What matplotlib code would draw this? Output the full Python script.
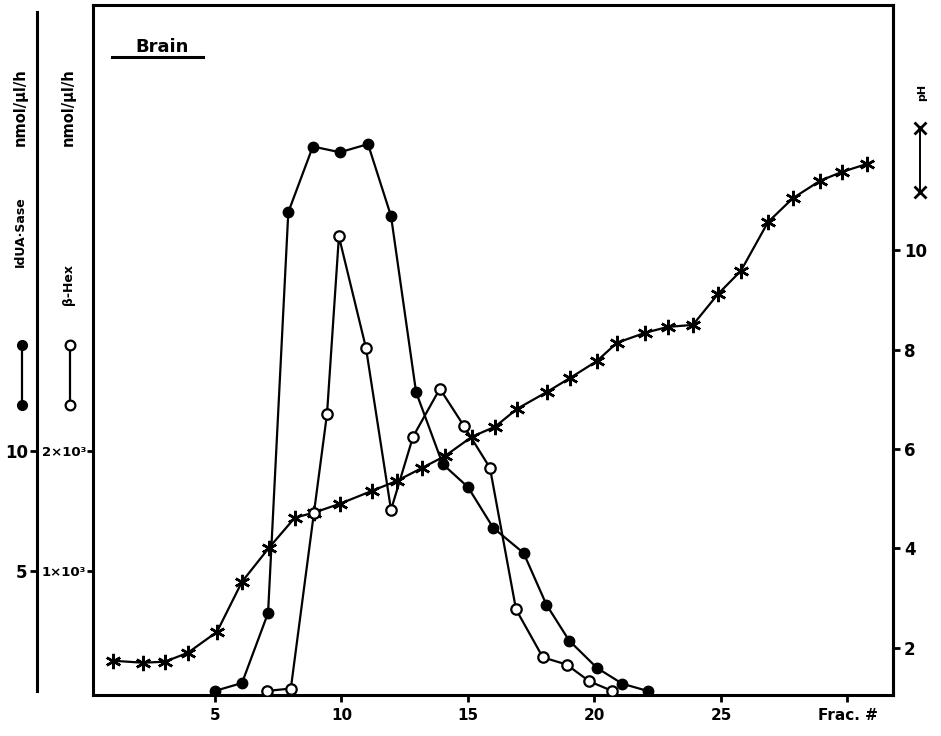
import matplotlib
matplotlib.use("Agg")
import matplotlib.pyplot as plt
from matplotlib.lines import Line2D

# readings taken off the scanned figure (fraction number, activity / pH)
frac_idua = [5.0, 6.07, 7.1, 7.9, 8.87, 9.94, 11.05, 11.96, 12.95, 14.0,
             15.0, 16.0, 17.2, 18.1, 19.0, 20.1, 21.1, 22.1]
idua = [0.0, 0.33, 3.25, 19.96, 22.7, 22.46, 22.8, 19.8, 12.46, 9.46,
        8.5, 6.8, 5.75, 3.6, 2.1, 0.96, 0.3, 0.0]

frac_hex = [7.06, 8.0, 8.91, 9.43, 9.9, 10.97, 11.96, 12.83, 13.89, 14.84,
            15.87, 16.9, 17.96, 18.9, 19.8, 20.7]
hex_act = [0, 20, 1480, 2310, 3790, 2860, 1510, 2120, 2520, 2210,
           1860, 680, 280, 220, 80, 0]

frac_ph = [0.97, 2.15, 3.02, 3.93, 5.08, 6.07, 7.13, 8.16, 8.91, 9.94,
           11.21, 12.19, 13.18, 14.09, 15.16, 16.07, 16.94, 18.12, 19.03, 20.09,
           20.89, 21.99, 22.9, 23.89, 24.88, 25.79, 26.86, 27.84, 28.91, 29.78,
           30.77]
ph = [1.74, 1.70, 1.72, 1.90, 2.32, 3.33, 4.01, 4.62, 4.72, 4.90,
      5.16, 5.36, 5.62, 5.86, 6.25, 6.45, 6.81, 7.15, 7.43, 7.77,
      8.14, 8.34, 8.46, 8.50, 9.12, 9.59, 10.57, 11.05, 11.40, 11.58,
      11.74]

x_ticks = [5, 10, 15, 20, 25, 30]
x_labels = ["5", "10", "15", "20", "25", "Frac. #"]
idua_ticks = [5, 10]
idua_labels = ["5", "10"]
hex_ticks = [1000, 2000]
hex_labels = ["1\u00d710\u00b3", "2\u00d710\u00b3"]
ph_ticks = [2, 4, 6, 8, 10]

plt.rcParams["font.family"] = ["DejaVu Sans"]
plt.rcParams["font.weight"] = "bold"

fig = plt.figure(figsize=(9.41, 7.36), dpi=100)
ax = fig.add_axes([0.0988, 0.0557, 0.8502, 0.9375])
ax_ph = ax.twinx()
ax_hex = ax.twinx()

# IdUA-Sase on the outer left axis
ax.plot(frac_idua, idua, color="black", lw=1.6, marker="o", ms=7.5,
        mfc="black", mec="black", zorder=3)
ax.set_xlim(0.18, 31.8)
ax.set_ylim(-0.17, 28.6)
ax.spines["left"].set_position(("outward", 40))
ax.spines["left"].set_bounds(0, 28.3)
ax.spines["left"].set_linewidth(2.2)
for s in ["top", "bottom", "right"]:
    ax.spines[s].set_linewidth(2.2)
ax.set_yticks(idua_ticks)
ax.set_yticklabels(idua_labels, fontsize=12, fontweight="bold")
ax.set_xticks(x_ticks)
ax.set_xticklabels(x_labels, fontsize=11, fontweight="bold")
ax.tick_params(axis="both", direction="out", length=5, width=2, pad=4)
ax.tick_params(axis="y", pad=2)

# pH on the right
ax_ph.plot(frac_ph, ph, color="black", lw=1.6, marker=(6, 2, 0), ms=11,
           mew=1.8, mec="black")
ax_ph.set_ylim(1.05, 14.94)
ax_ph.set_yticks(ph_ticks)
ax_ph.set_yticklabels([str(t) for t in ph_ticks], fontsize=12, fontweight="bold")
ax_ph.tick_params(axis="y", direction="out", length=5, width=2, pad=3)
for s in ["left", "top", "bottom"]:
    ax_ph.spines[s].set_visible(False)
ax_ph.spines["right"].set_linewidth(2.2)

# beta-Hex on the inner left axis (box edge)
ax_hex.plot(frac_hex, hex_act, color="black", lw=1.6, marker="o", ms=7.5,
            mfc="white", mec="black", mew=1.6)
ax_hex.set_ylim(-34, 5720)
ax_hex.yaxis.set_ticks_position("left")
ax_hex.spines["left"].set_visible(True)
ax_hex.spines["left"].set_linewidth(2.2)
for s in ["right", "top", "bottom"]:
    ax_hex.spines[s].set_visible(False)
ax_hex.set_yticks(hex_ticks)
ax_hex.set_yticklabels(hex_labels, fontsize=9.5, fontweight="bold")
ax_hex.tick_params(axis="y", direction="out", length=4, width=2, pad=1)

# panel title
ax.text(0.086, 0.939, "Brain", transform=ax.transAxes, ha="center",
        va="center", fontsize=13, fontweight="bold")
ax.add_line(Line2D([0.024, 0.1375], [0.9246, 0.9246], transform=ax.transAxes,
                   color="black", lw=2.2))

# hand-drawn key on the left
fig.add_artist(Line2D([22 / 941, 22 / 941], [0.531, 0.4497], color="black",
                      lw=1.6, marker="o", ms=7, mfc="black"))
fig.add_artist(Line2D([70 / 941, 70 / 941], [0.531, 0.4497], color="black",
                      lw=1.6, marker="o", ms=7, mfc="white", mew=1.6))
fig.text(20 / 941, 0.6848, "IdUA\u00b7Sase", rotation=90, ha="center",
         va="center", fontsize=9, fontweight="bold")
fig.text(20 / 941, 0.8546, "nmol/\u03bcl/h", rotation=90, ha="center",
         va="center", fontsize=10.5, fontweight="bold")
fig.text(68 / 941, 0.6128, "\u03b2-Hex", rotation=90, ha="center",
         va="center", fontsize=9, fontweight="bold")
fig.text(68 / 941, 0.8546, "nmol/\u03bcl/h", rotation=90, ha="center",
         va="center", fontsize=10.5, fontweight="bold")

# key on the right
fig.add_artist(Line2D([920 / 941, 920 / 941], [0.826, 0.739], color="black",
                      lw=1.4, marker="x", ms=8, mew=2))
fig.text(922 / 941, 0.875, "pH", rotation=90, ha="center", va="center",
         fontsize=8, fontweight="bold")

fig.savefig("out.png", dpi=100)
